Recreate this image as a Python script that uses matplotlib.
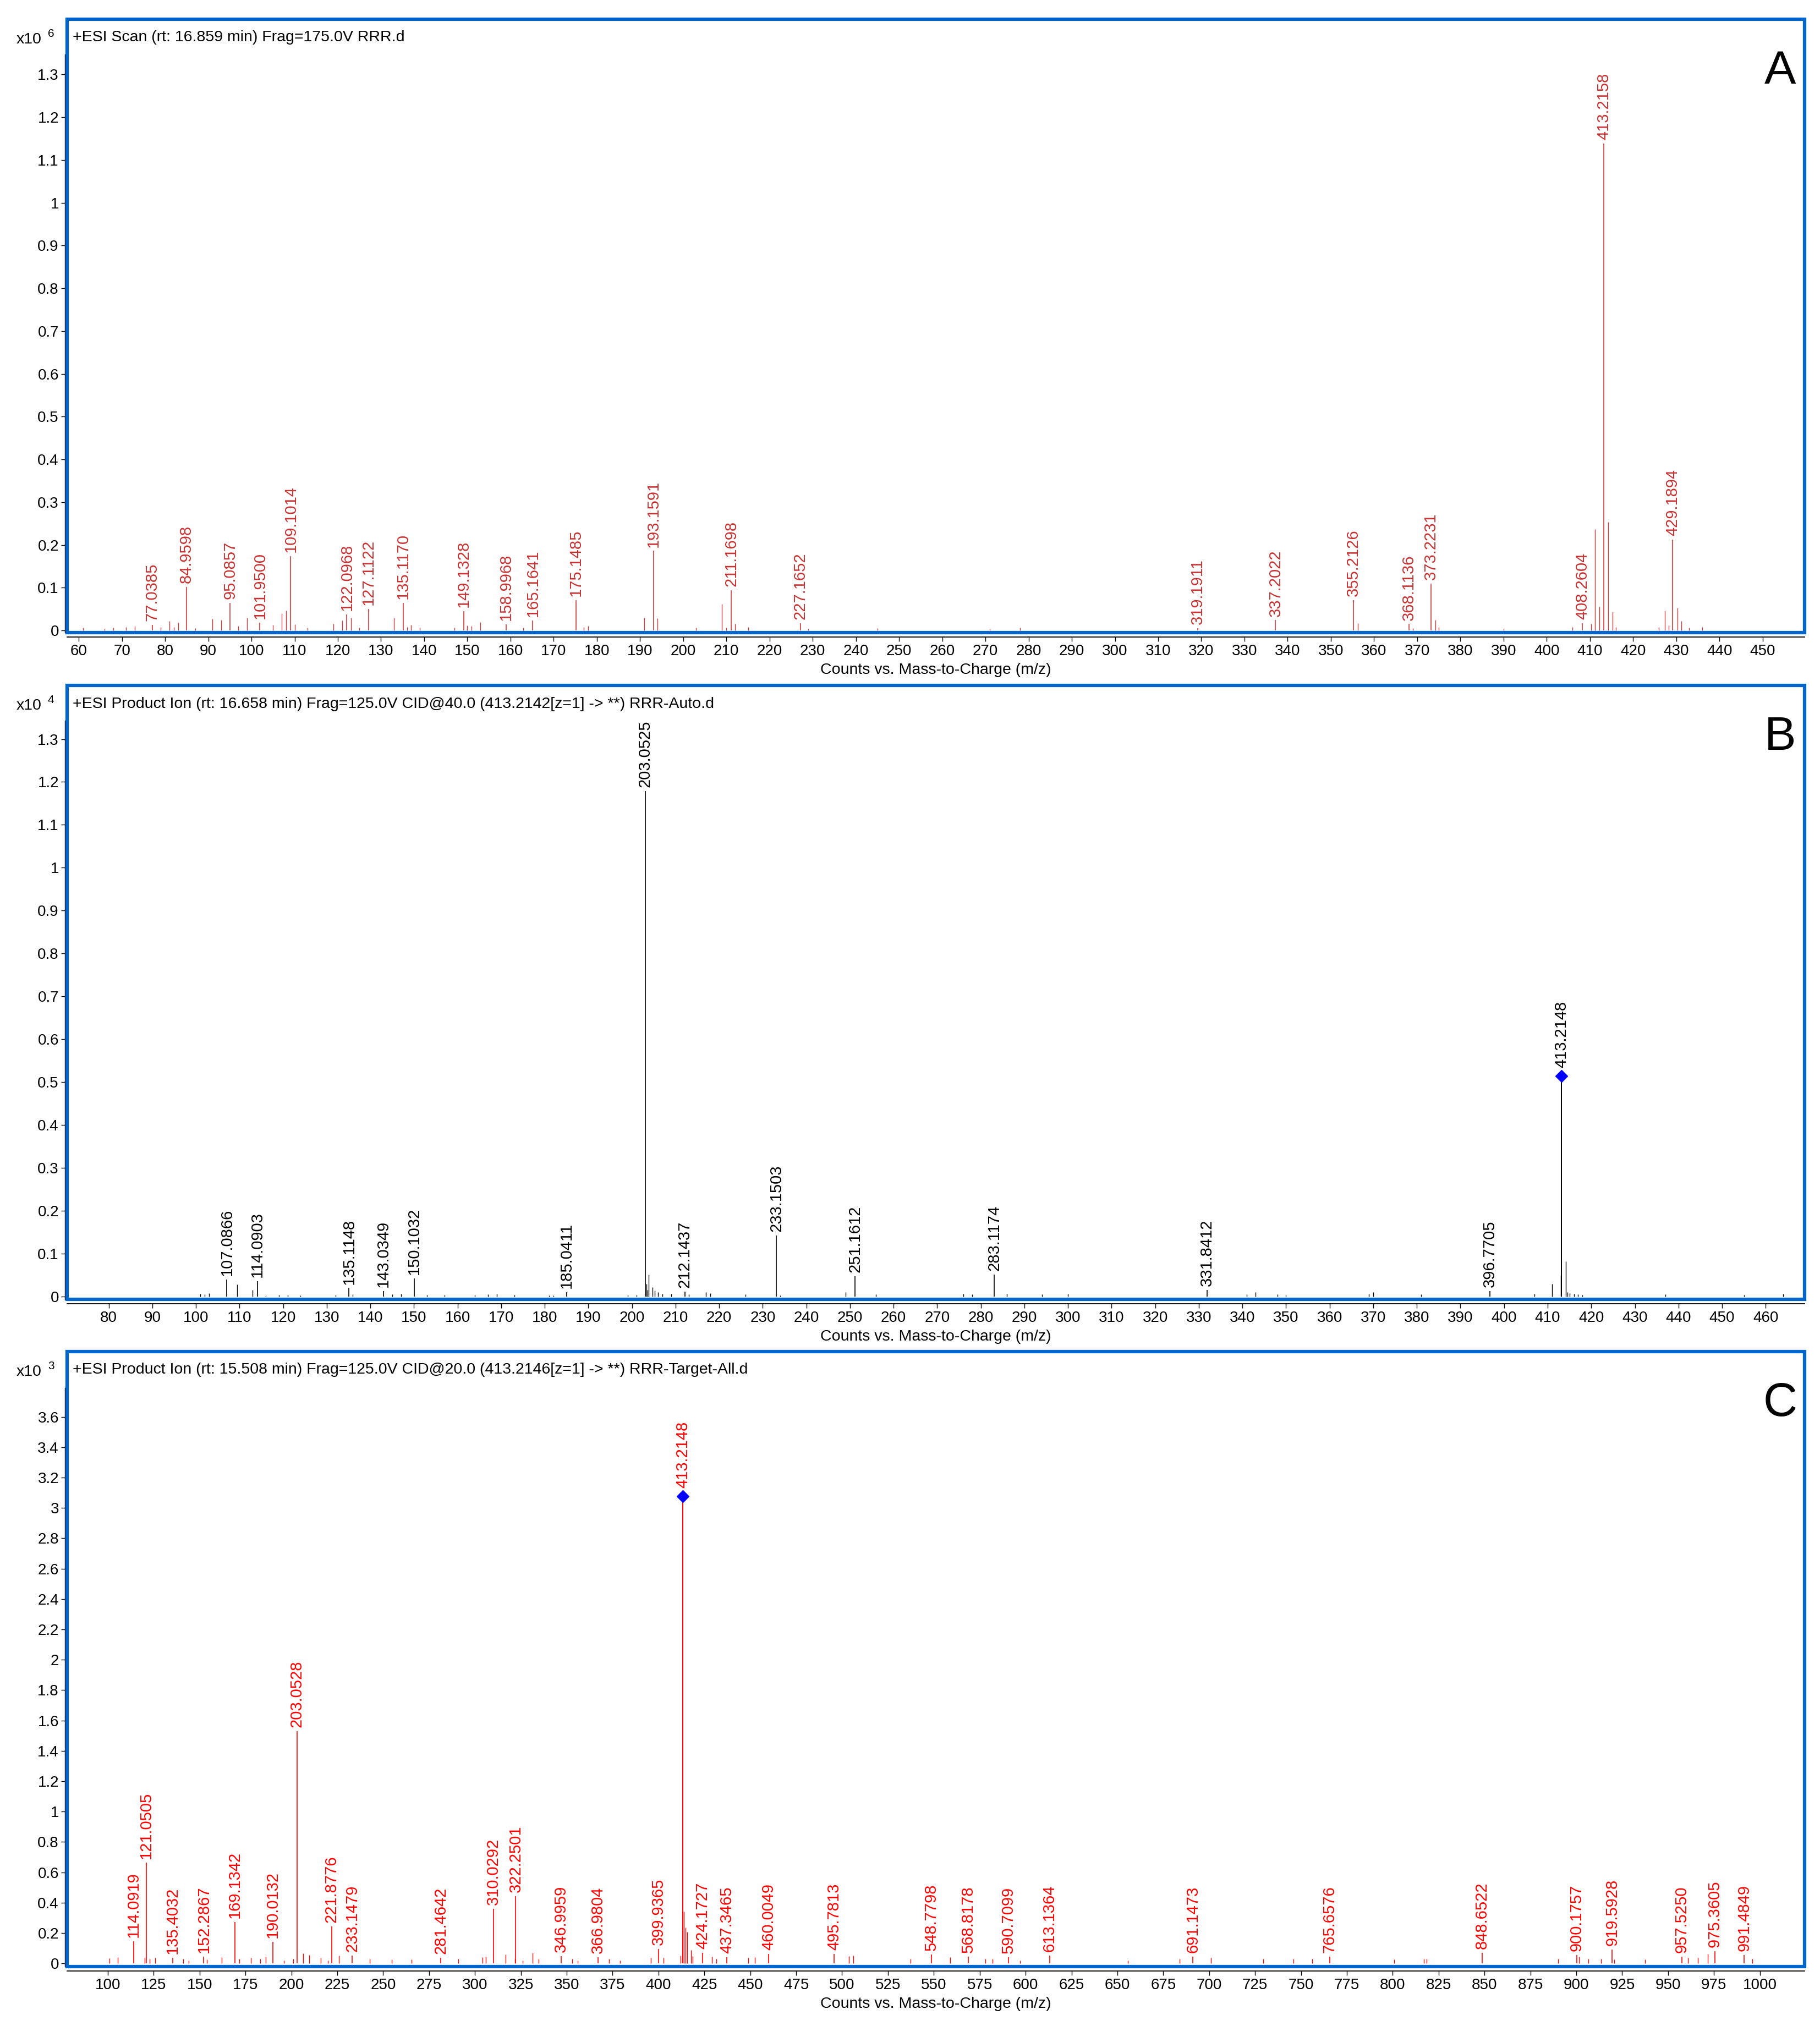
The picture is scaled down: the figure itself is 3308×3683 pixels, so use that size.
import numpy as np
import matplotlib
matplotlib.use('Agg')
import matplotlib.pyplot as plt
from matplotlib.patches import Rectangle
from matplotlib.ticker import MultipleLocator, FuncFormatter

plt.rcParams['font.family'] = ['Liberation Sans', 'DejaVu Sans']

BLUE = '#0066cc'
XLABEL = 'Counts vs. Mass-to-Charge (m/z)'

# ---------------- Panel A : full scan (x10^6 counts) ----------------
a_lab_mz = [77.0385, 84.9598, 95.0857, 101.9500, 109.1014, 122.0968, 127.1122,
            135.1170, 149.1328, 158.9968, 165.1641, 175.1485, 193.1591, 211.1698,
            227.1652, 319.1911, 337.2022, 355.2126, 368.1136, 373.2231, 408.2604,
            413.2158, 429.1894]
a_lab_int = [0.013, 0.102, 0.064, 0.018, 0.174, 0.037, 0.050,
             0.065, 0.045, 0.014, 0.023, 0.071, 0.186, 0.094,
             0.017, 0.005, 0.024, 0.071, 0.015, 0.109, 0.017,
             1.138, 0.212]
a_minor_mz = [61, 66, 68, 71, 73, 79, 81, 82, 83, 87, 91, 93, 97, 99, 105, 107, 108,
              110, 113, 119, 121, 123, 125, 133, 136, 137, 139, 147, 150, 151, 153,
              163, 177, 178, 191, 194, 203, 209, 210, 212, 215, 229, 245, 271, 278,
              356.2, 369, 374.2, 375, 390, 406, 410.3, 411.2, 412.2, 414.2, 415.2,
              416, 426, 427.3, 428.3, 430.3, 431.2, 433, 436]
a_minor_int = [0.006, 0.004, 0.007, 0.008, 0.010, 0.008, 0.022, 0.008, 0.018, 0.005,
               0.027, 0.024, 0.010, 0.030, 0.013, 0.040, 0.047, 0.014, 0.006, 0.016,
               0.023, 0.030, 0.006, 0.030, 0.008, 0.013, 0.007, 0.006, 0.012, 0.011,
               0.020, 0.006, 0.008, 0.010, 0.030, 0.028, 0.006, 0.062, 0.006, 0.015,
               0.008, 0.004, 0.005, 0.004, 0.006, 0.017, 0.005, 0.024, 0.008, 0.004,
               0.008, 0.015, 0.237, 0.056, 0.254, 0.044, 0.008, 0.008, 0.047, 0.012,
               0.053, 0.022, 0.006, 0.008]

# ---------------- Panel B : product ion CID 40 (x10^4 counts) ----------------
b_lab_mz = [107.0866, 114.0903, 135.1148, 143.0349, 150.1032, 185.0411, 203.0525,
            212.1437, 233.1503, 251.1612, 283.1174, 331.8412, 396.7705]
b_lab_int = [0.040, 0.036, 0.020, 0.013, 0.043, 0.011, 1.179,
             0.012, 0.142, 0.048, 0.051, 0.016, 0.013]
b_prec_mz = 413.2148
b_prec_int = 0.514
b_minor_mz = [101, 102, 103, 109.5, 113, 116, 119, 121, 124, 132, 136, 145, 147, 153,
              157, 164, 167, 169, 173, 181, 182, 199, 201, 203.3, 203.6, 203.8, 204.7,
              205.2, 206, 207, 209, 213, 217, 218, 226, 234, 249, 256, 276, 278, 286,
              294, 300, 341, 343, 348, 350, 369, 370, 381, 407, 411, 413.0, 414.2,
              414.6, 415, 416, 417, 418, 437, 455, 464]
b_minor_int = [0.006, 0.005, 0.008, 0.028, 0.016, 0.003, 0.004, 0.004, 0.003, 0.004,
               0.005, 0.005, 0.006, 0.004, 0.004, 0.004, 0.005, 0.006, 0.004, 0.003,
               0.003, 0.004, 0.004, 0.030, 0.015, 0.052, 0.022, 0.014, 0.010, 0.007,
               0.006, 0.005, 0.010, 0.008, 0.005, 0.003, 0.010, 0.005, 0.007, 0.005,
               0.007, 0.005, 0.006, 0.005, 0.011, 0.005, 0.004, 0.006, 0.011, 0.005,
               0.006, 0.029, 0.050, 0.082, 0.010, 0.008, 0.006, 0.005, 0.004, 0.005,
               0.004, 0.007]

# ---------------- Panel C : product ion CID 20 (x10^3 counts) ----------------
c_lab_mz = [114.0919, 121.0505, 135.4032, 152.2867, 169.1342, 190.0132, 203.0528,
            221.8776, 233.1479, 281.4642, 310.0292, 322.2501, 346.9959, 366.9804,
            399.9365, 424.1727, 437.3465, 460.0049, 495.7813, 548.7798, 568.8178,
            590.7099, 613.1364, 691.1473, 765.6576, 848.6522, 900.1757, 919.5928,
            957.5250, 975.3605, 991.4849]
c_lab_int = [0.145, 0.664, 0.037, 0.044, 0.272, 0.141, 1.528,
             0.245, 0.051, 0.037, 0.358, 0.444, 0.047, 0.039,
             0.096, 0.071, 0.040, 0.061, 0.061, 0.059, 0.043,
             0.040, 0.051, 0.043, 0.043, 0.071, 0.055, 0.090,
             0.044, 0.080, 0.055]
c_prec_mz = 413.2148
c_prec_int = 3.077
c_minor_mz = [101, 105.3, 120.2, 122.7, 125.8, 141, 144, 154, 162, 171.8, 178, 183,
              186, 196, 201, 206.3, 209.7, 216, 220, 226, 242.6, 254.8, 265.5, 291,
              304, 305.9, 316.8, 321.8, 326, 331.3, 334.6, 353, 356, 373, 379, 395.7,
              402.7, 412, 413.9, 414.7, 415.7, 417.8, 418.6, 429, 431.5, 449, 452.4,
              503.7, 506.2, 537.3, 558.8, 578, 582, 597, 655.8, 684, 701, 729.5, 746,
              756, 800.9, 816.9, 818.5, 890, 901.6, 906.6, 913.6, 920.6, 937.5, 960.7,
              966.2, 971.5, 996]
c_minor_int = [0.032, 0.040, 0.035, 0.030, 0.035, 0.030, 0.020, 0.025, 0.040, 0.030,
               0.035, 0.030, 0.045, 0.020, 0.030, 0.067, 0.055, 0.035, 0.020, 0.051,
               0.030, 0.025, 0.025, 0.030, 0.040, 0.045, 0.060, 0.030, 0.020, 0.071,
               0.030, 0.030, 0.020, 0.030, 0.020, 0.035, 0.035, 0.052, 0.340, 0.237,
               0.206, 0.086, 0.047, 0.045, 0.030, 0.035, 0.040, 0.049, 0.050, 0.030,
               0.040, 0.030, 0.030, 0.020, 0.020, 0.030, 0.035, 0.030, 0.030, 0.030,
               0.025, 0.030, 0.030, 0.030, 0.045, 0.030, 0.030, 0.025, 0.025, 0.035,
               0.035, 0.061, 0.030]

# header texts
a_header = '+ESI Scan (rt: 16.859 min) Frag=175.0V RRR.d'
b_header = '+ESI Product Ion (rt: 16.658 min) Frag=125.0V CID@40.0 (413.2142[z=1] -> **) RRR-Auto.d'
c_header = '+ESI Product Ion (rt: 15.508 min) Frag=125.0V CID@20.0 (413.2146[z=1] -> **) RRR-Target-All.d'


def draw_panel(ax, lab_mz, lab_int, minor_mz, minor_int, color, lab_color,
               xlim, ylim, xstep, ystep, ytop_tick, spine_top, header, expo,
               letter, prec=None):
    ax.set_xlim(*xlim)
    ax.set_ylim(*ylim)
    # peaks
    ax.vlines(minor_mz, 0, minor_int, color=color, lw=1.0, zorder=2)
    ax.vlines(lab_mz, 0, lab_int, color=color, lw=1.2, zorder=2)
    for mz, h in zip(lab_mz, lab_int):
        ax.annotate(f'{mz:.4f}', (mz, h), xytext=(0, 5), textcoords='offset points',
                    rotation=90, ha='center', va='bottom', fontsize=21,
                    color=lab_color, zorder=3)
    if prec is not None:
        pmz, pint = prec
        ax.vlines([pmz], 0, pint, color=color, lw=1.4, zorder=2)
        ax.plot([pmz], [pint], marker='D', ms=11, color='#0000ff', mec='#0000ff',
                zorder=4)
        ax.annotate(f'{pmz:.4f}', (pmz, pint), xytext=(0, 11), textcoords='offset points',
                    rotation=90, ha='center', va='bottom', fontsize=21,
                    color=lab_color, zorder=3)

    # blue frame
    ax.add_patch(Rectangle((0, 0), 1, 1, transform=ax.transAxes, fill=False,
                           edgecolor=BLUE, lw=4.5, zorder=6, clip_on=False))
    for s in ['top', 'right']:
        ax.spines[s].set_visible(False)
    ax.spines['bottom'].set_position(('outward', 6))
    ax.spines['bottom'].set_linewidth(1.3)
    ax.spines['left'].set_position(('outward', 3))
    ax.spines['left'].set_linewidth(1.0)
    ax.spines['left'].set_bounds(ylim[0], spine_top)

    ax.xaxis.set_major_locator(MultipleLocator(xstep))
    ax.set_yticks(np.round(np.arange(0, ytop_tick + ystep / 2, ystep), 2))
    ax.yaxis.set_major_formatter(FuncFormatter(lambda v, p: f'{v:g}'))
    ax.tick_params(axis='x', direction='out', length=6, width=1.0, pad=3, labelsize=20)
    ax.tick_params(axis='y', direction='out', length=5, width=1.0, pad=3, labelsize=20)

    ax.text(0.003, 0.970, header, transform=ax.transAxes, ha='left', va='center',
            fontsize=20.5)
    ax.text(-0.0294, 0.967, 'x10', transform=ax.transAxes, ha='left', va='center',
            fontsize=20.5)
    ax.text(-0.0112, 0.976, expo, transform=ax.transAxes, ha='left', va='center',
            fontsize=15)
    ax.text(0.986, 0.9145, letter, transform=ax.transAxes, ha='center', va='center',
            fontsize=62)
    ax.text(0.5, -0.061, XLABEL, transform=ax.transAxes, ha='center', va='center',
            fontsize=20.5)


fig = plt.figure(figsize=(33.08, 36.83), dpi=100)
W, H = 1408.0, 1568.0
left = 52 / W
width = (1396 - 52) / W

axA = fig.add_axes([left, 1 - 489.6 / H, width, (489.6 - 14.9) / H])
draw_panel(axA, a_lab_mz, a_lab_int, a_minor_mz, a_minor_int, '#d23a3a', '#c83232',
           (57.33, 459.7), (-0.005, 1.429), 10, 0.1, 1.3, 1.347, a_header, '6', 'A')

axB = fig.add_axes([left, 1 - 1005.5 / H, width, (1005.5 - 530.5) / H])
draw_panel(axB, b_lab_mz, b_lab_int, b_minor_mz, b_minor_int, 'black', 'black',
           (70.48, 468.9), (-0.006, 1.425), 10, 0.1, 1.3, 1.343, b_header, '4', 'B',
           prec=(b_prec_mz, b_prec_int))

axC = fig.add_axes([left, 1 - 1522 / H, width, (1522 - 1046) / H])
draw_panel(axC, c_lab_mz, c_lab_int, c_minor_mz, c_minor_int, '#ff0000', '#ff0000',
           (77.9, 1024.3), (-0.021, 4.03), 25, 0.2, 3.6, 3.79, c_header, '3', 'C',
           prec=(c_prec_mz, c_prec_int))

fig.savefig('out.png', dpi=100)
